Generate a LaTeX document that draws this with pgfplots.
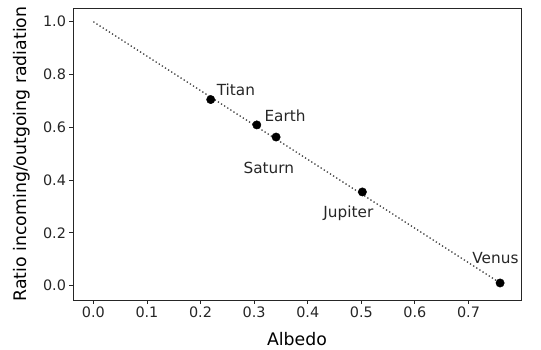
\documentclass[border=0pt]{standalone}
\usepackage{pgfplots}
\pgfplotsset{compat=1.18}
\usepackage{fontspec}
\setmainfont{DejaVu Sans}
\begin{document}
\begin{tikzpicture}
\begin{axis}[
  scale only axis,
  width=448bp, height=292bp,
  xmin=-0.038, xmax=0.798,
  ymin=-0.0545, ymax=1.052,
  xtick={0,0.1,...,0.8},
  ytick={0,0.2,...,1.0},
  /pgf/number format/assume math mode=true,
  /pgf/number format/.cd, fixed, fixed zerofill, precision=1, /pgfplots/.cd,
  tick align=outside,
  major tick length=3.5bp,
  tick style={line width=0.8bp, color=black!85},
  axis line style={line width=0.8bp, color=black!85},
  xtick pos=bottom, ytick pos=left,
  ticklabel style={font=\fontsize{14.4bp}{17bp}\selectfont, color=black!85},
  xlabel={Albedo},
  ylabel={Ratio incoming/outgoing radiation},
  label style={font=\fontsize{17.3bp}{20bp}\selectfont},
  xlabel style={yshift=-8bp},
  ylabel style={yshift=6bp},
  clip=false,
]
\addplot[color=black!75, line width=1.3bp, dash pattern=on 1.3bp off 2.4bp] coordinates {(0,1) (0.759,0.010)};
\addplot[only marks, mark=*, mark size=4.2bp, color=black] coordinates {
  (0.219,0.705) (0.305,0.609) (0.341,0.563) (0.502,0.355) (0.759,0.010)};
\begin{scope}[every node/.style={anchor=base west, inner sep=0pt, font=\fontsize{15.3bp}{18bp}\selectfont, color=black!85}]
\node at (axis cs:0.230,0.722) {Titan};
\node at (axis cs:0.319,0.621) {Earth};
\node at (axis cs:0.280,0.426) {Saturn};
\node at (axis cs:0.429,0.259) {Jupiter};
\node at (axis cs:0.707,0.085) {Venus};
\end{scope}
\end{axis}
\path (current axis.south west) ++(-73bp,-50bp) rectangle ++(541bp,350bp);
\end{tikzpicture}
\end{document}
